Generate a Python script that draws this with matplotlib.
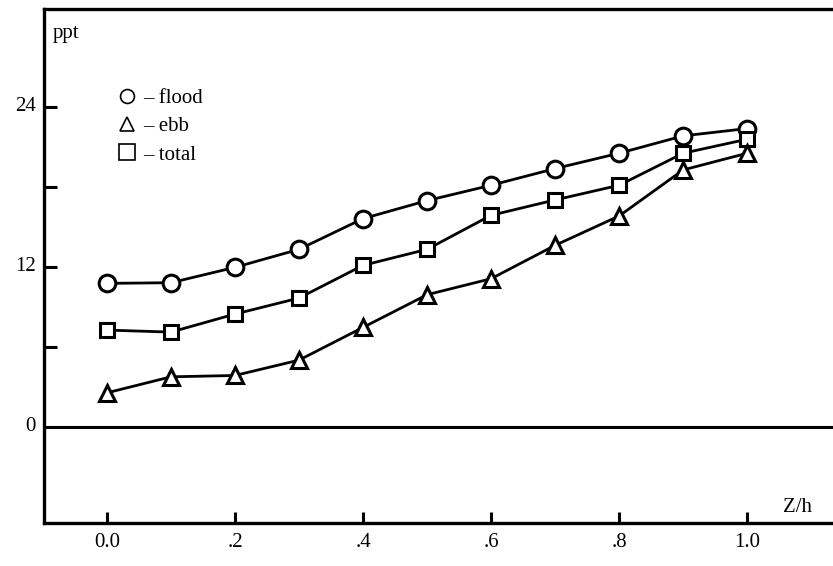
import matplotlib
matplotlib.use("Agg")
import matplotlib.pyplot as plt
from matplotlib.lines import Line2D
from matplotlib.ticker import FixedLocator

# relative depth Z/h
depth = [0.0, 0.1, 0.2, 0.3, 0.4, 0.5, 0.6, 0.7, 0.8, 0.9, 1.0]
# salinity (ppt)
flood = [10.75, 10.8, 11.95, 13.3, 15.6, 16.95, 18.1, 19.35, 20.5, 21.8, 22.35]
ebb = [2.55, 3.75, 3.85, 5.0, 7.45, 9.9, 11.1, 13.6, 15.8, 19.25, 20.5]
total = [7.25, 7.1, 8.45, 9.65, 12.1, 13.3, 15.85, 17.0, 18.1, 20.5, 21.55]

x_ticks = [0.0, 0.2, 0.4, 0.6, 0.8, 1.0]
x_labels = ["0.0", ".2", ".4", ".6", ".8", "1.0"]
y_ticks = [24, 18, 12, 6]
y_labels = {24: "24", 12: "12", 0: "0"}

plt.rcParams['font.family'] = ['Liberation Serif', 'DejaVu Serif']


def main():
	fig = plt.figure(figsize=[8.33, 5.66], dpi=100)
	# right edge runs off the page like the scan
	ax = fig.add_axes([0.053, 0.076, 0.957, 0.908])

	ax.set_xlim(-0.098, 1.147)
	ax.set_ylim(-7.2, 31.3)

	# series
	style = dict(color='black', linewidth=2, markerfacecolor='white',
		markeredgecolor='black', markeredgewidth=2.2, zorder=3)
	ax.plot(depth, flood, marker='o', markersize=12, **style)
	ax.plot(depth, total, marker='s', markersize=10, **style)
	ax.plot(depth, ebb, marker='^', markersize=11, **style)

	# zero line
	ax.axhline(0, color='black', linewidth=2.2, zorder=2)

	# spines
	for side in ['left', 'bottom', 'top']:
		ax.spines[side].set_linewidth(2.4)
	ax.spines['right'].set_visible(False)

	# ticks
	ax.xaxis.set_major_locator(FixedLocator(x_ticks))
	ax.set_xticklabels(x_labels)
	ax.yaxis.set_major_locator(FixedLocator(y_ticks))
	ax.set_yticklabels(["" for t in y_ticks])
	ax.tick_params(axis='x', direction='in', length=8, width=2.2, pad=7, labelsize=15)
	ax.tick_params(axis='y', direction='in', length=9, width=2.2, pad=7, labelsize=15)

	# y labels (only some ticks labelled)
	for val, txt in y_labels.items():
		ax.annotate(txt, xy=(0, val), xycoords=('axes fraction', 'data'),
			xytext=(-6, 0), textcoords='offset points',
			ha='right', va='center', fontsize=15)

	ax.text(0.011, 0.953, "ppt", transform=ax.transAxes, fontsize=15, va='center')
	ax.text(1.078, -6.05, "Z/h", fontsize=15, ha='center', va='center')

	# legend
	handles = [
		Line2D([], [], linestyle='none', marker='o', markersize=10,
			markerfacecolor='white', markeredgecolor='black', markeredgewidth=1.2),
		Line2D([], [], linestyle='none', marker='^', markersize=10,
			markerfacecolor='white', markeredgecolor='black', markeredgewidth=1.2),
		Line2D([], [], linestyle='none', marker='s', markersize=12,
			markerfacecolor='white', markeredgecolor='black', markeredgewidth=1.2),
	]
	labels = ["\u2013 flood", "\u2013 ebb", "\u2013 total"]
	ax.legend(handles, labels, loc='upper left', bbox_to_anchor=(0.08, 0.862),
		frameon=False, fontsize=15, handlelength=1.0, handletextpad=0.3,
		labelspacing=0.42, borderaxespad=0)

	plt.savefig("out.png", dpi=100)


if __name__ == "__main__":
	main()
